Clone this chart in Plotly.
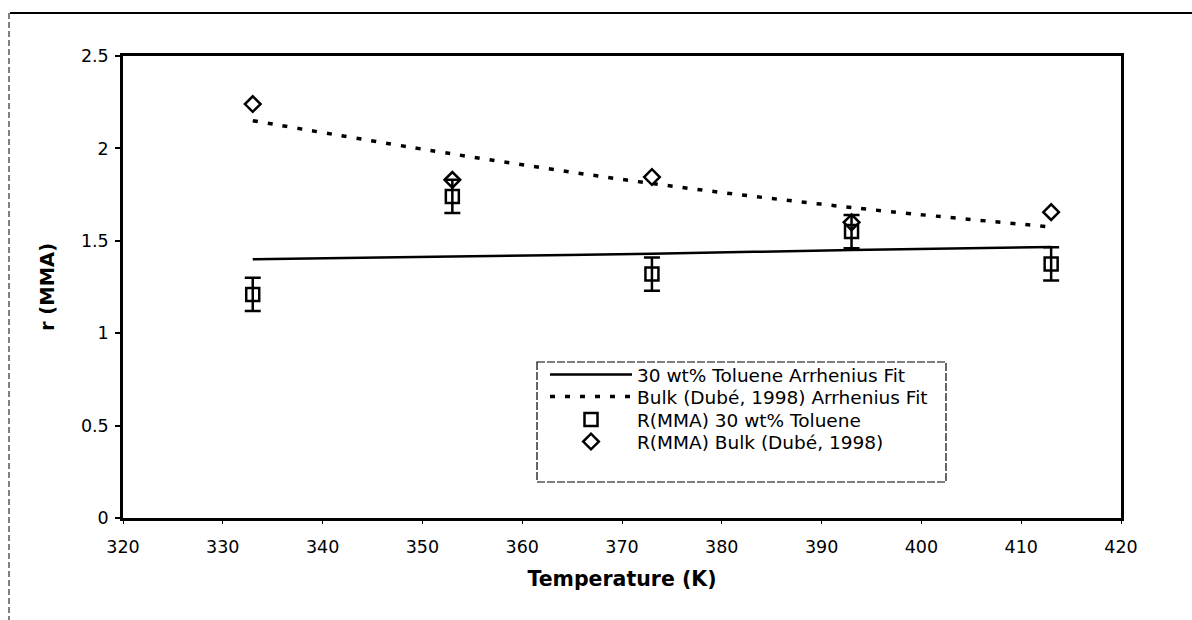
import plotly.graph_objects as go

# Data
temps = [333, 353, 373, 393, 413]
r_toluene = [1.21, 1.74, 1.32, 1.55, 1.375]
r_toluene_err = [0.09, 0.09, 0.09, 0.09, 0.09]
r_bulk = [2.24, 1.83, 1.845, 1.60, 1.655]
fit_toluene = [1.40, 1.415, 1.43, 1.45, 1.466]
fit_bulk = [2.15, 1.97, 1.81, 1.68, 1.575]

x_ticks = [320, 330, 340, 350, 360, 370, 380, 390, 400, 410, 420]
y_ticks = [0, 0.5, 1, 1.5, 2, 2.5]
y_tick_text = ["0", "0.5", "1", "1.5", "2", "2.5"]

FONT = "DejaVu Sans, Arial, sans-serif"

L, R, T, B = 123, 71, 56, 102
W, H = 1192, 620
pw, ph = W - L - R, H - T - B


def px(xp):
    return (xp - L) / pw


def py(yp):
    return (H - B - yp) / ph


fig = go.Figure()
fig.add_trace(go.Scatter(
    x=temps, y=fit_toluene, mode="lines", name="30 wt% Toluene Arrhenius Fit",
    line=dict(color="black", width=2.5), line_shape="spline", legend="legend"))
fig.add_trace(go.Scatter(
    x=temps, y=fit_bulk, mode="lines", name="Bulk (Dubé, 1998) Arrhenius Fit",
    line=dict(color="black", width=3.5, dash="5px,10px"), line_shape="spline", legend="legend2"))
fig.add_trace(go.Scatter(
    x=temps, y=r_toluene, mode="markers", name="R(MMA) 30 wt% Toluene",
    marker=dict(symbol="square-open", size=13, color="black", line=dict(width=2.5, color="black")),
    error_y=dict(type="data", array=r_toluene_err, visible=True, color="black",
                 thickness=2.5, width=8), legend="legend3"))
fig.add_trace(go.Scatter(
    x=temps, y=r_bulk, mode="markers", name="R(MMA) Bulk (Dubé, 1998)",
    marker=dict(symbol="diamond-open", size=12, color="black", line=dict(width=2.5, color="black")),
    legend="legend4"))

shapes = [
    # outer frame top line
    dict(type="line", xref="paper", yref="paper", x0=px(10), x1=px(1192), y0=py(13), y1=py(13),
         line=dict(color="black", width=2)),
    # outer frame left dashed line
    dict(type="line", xref="paper", yref="paper", x0=px(9), x1=px(9), y0=py(13), y1=py(620),
         line=dict(color="black", width=1, dash="6px,3px")),
    # legend box
    dict(type="rect", xref="paper", yref="paper", x0=px(537), x1=px(946), y0=py(362), y1=py(482),
         line=dict(color="black", width=1.2, dash="8px,2px"), fillcolor="rgba(0,0,0,0)"),
]

LEG_FONT = dict(family=FONT, size=18.5, color="black")
row_centers = [375, 397, 420, 442]


def leg(yc):
    return dict(x=px(545), y=py(yc), xanchor="left", yanchor="middle",
                bgcolor="rgba(0,0,0,0)", borderwidth=0, font=LEG_FONT, itemwidth=82)


fig.update_layout(
    width=W, height=H,
    margin=dict(l=L, r=R, t=T, b=B),
    paper_bgcolor="white", plot_bgcolor="white",
    font=dict(family=FONT, color="black", size=17),
    showlegend=True,
    legend=leg(row_centers[0]),
    legend2=leg(row_centers[1]),
    legend3=leg(row_centers[2]),
    legend4=leg(row_centers[3]),
    shapes=shapes,
    xaxis=dict(range=[320, 420], tickvals=x_ticks, ticks="outside", ticklen=3, tickwidth=1,
               tickcolor="black", showline=True, linecolor="black", linewidth=2.5, mirror=True,
               showgrid=False, zeroline=False, ticklabelstandoff=8,
               tickfont=dict(family=FONT, size=17.5, color="black"),
               title=dict(text="<b>Temperature (K)</b>", font=dict(family=FONT, size=20.5, color="black"),
                          standoff=16)),
    yaxis=dict(range=[0, 2.5], tickvals=y_ticks, ticktext=y_tick_text, ticks="outside", ticklen=5,
               tickwidth=1.5, tickcolor="black", showline=True, linecolor="black", linewidth=2.5,
               mirror=True, showgrid=False, zeroline=False, ticklabelstandoff=3,
               tickfont=dict(family=FONT, size=17.5, color="black"),
               title=dict(text="<b>r (MMA)</b>", font=dict(family=FONT, size=19.5, color="black"),
                          standoff=22)),
)

fig.write_html("out.html")
